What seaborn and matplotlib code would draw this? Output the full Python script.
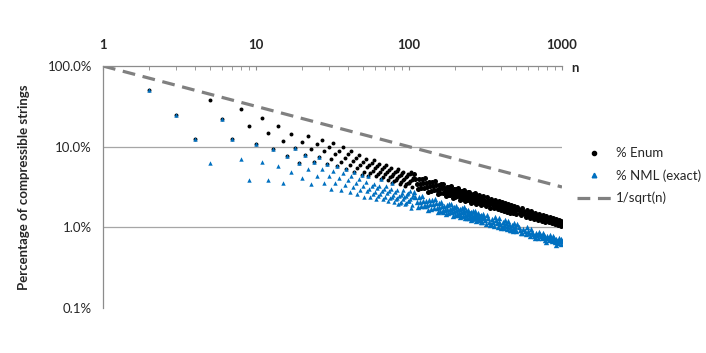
import matplotlib
matplotlib.use("Agg")
import matplotlib.pyplot as plt
from matplotlib.lines import Line2D
from matplotlib.ticker import FixedLocator, FixedFormatter, NullFormatter
import seaborn as sns
import pandas as pd

# ---------------- data ----------------
# string length n (x categories)
n_small = list(range(2, 107))
n_mid = list(range(108, 301, 2))
n_big = list(range(305, 501, 5)) + list(range(510, 1001, 10))

# % Enum (percent)
enum_small = [50, 25, 12.5, 37.5, 21.9, 12.5, 28.9, 18.0, 10.9,
              22.7, 14.6, 9.23, 18.0, 11.85, 7.68, 14.35, 9.63, 6.36, 11.53,
              7.84, 13.38, 9.31, 6.39, 10.78, 7.55, 12.21, 8.72, 6.14, 9.87,
              7.08, 11.02, 8.01, 5.76, 8.95, 6.52, 9.89, 7.30, 5.33, 8.07,
              5.96, 8.84, 6.60, 4.88, 7.25, 5.41, 7.90, 5.95, 4.44, 6.49,
              4.89, 7.04, 5.54, 4.38, 5.93, 4.71, 6.33, 5.03, 6.75, 5.38,
              4.29, 5.75, 4.60, 6.13, 4.92, 3.95, 5.26, 4.23, 5.60, 4.52,
              5.97, 4.83, 3.90, 5.15, 4.17, 5.44, 4.38, 3.53, 4.59, 3.71,
              4.81, 3.89, 5.04, 4.07, 5.27, 4.27, 3.47, 4.47, 3.65, 4.69,
              3.82, 4.90, 4.00, 3.27, 4.19, 3.42, 4.38, 3.59, 4.58, 3.52,
              4.60, 3.70, 4.82, 3.89, 3.12, 4.08]
enum_mid = [4.52, 3.93, 3.43, 3.00, 3.98, 3.48, 3.05, 4.03, 3.53, 3.10,
            4.09, 3.59, 3.15, 2.77, 3.64, 3.21, 2.83, 3.69, 3.26, 2.88,
            3.75, 3.32, 2.94, 2.60, 3.37, 2.99, 2.65, 3.42, 3.03, 2.70,
            3.48, 3.09, 2.75, 2.45, 3.15, 2.80, 2.50, 3.20, 2.85, 2.55,
            3.25, 2.90, 2.59, 2.32, 2.96, 2.65, 2.37, 3.01, 2.69, 2.42,
            3.06, 2.75, 2.46, 2.21, 2.80, 2.51, 2.26, 2.85, 2.56, 2.30,
            2.90, 2.61, 2.35, 2.12, 2.66, 2.40, 2.16, 2.71, 2.44, 2.21,
            2.76, 2.49, 2.25, 2.03, 2.54, 2.30, 2.08, 2.59, 2.34, 2.12,
            2.64, 2.39, 2.16, 1.96, 2.43, 2.21, 2.00, 2.48, 2.25, 2.04,
            2.53, 2.29, 2.08, 1.89, 2.33, 2.13, 1.93]
enum_big = [2.43, 2.21, 2.00, 1.82, 2.35, 2.13, 1.94, 1.76, 2.27, 2.06,
            1.88, 1.72, 2.19, 2.00, 1.83, 1.67, 2.12, 1.94, 1.78, 1.63,
            2.06, 1.89, 1.74, 1.59, 2.00, 1.84, 1.69, 1.56, 1.95, 1.79,
            1.65, 1.52, 1.90, 1.75, 1.61, 1.49, 1.85, 1.71, 1.58, 1.46,
            1.79, 1.65, 1.52, 1.41, 1.72, 1.58, 1.47, 1.36, 1.65, 1.52,
            1.42, 1.32, 1.58, 1.47, 1.37, 1.28, 1.52, 1.42, 1.33, 1.24,
            1.47, 1.37, 1.29, 1.21, 1.42, 1.33, 1.25, 1.17, 1.38, 1.29,
            1.22, 1.15, 1.34, 1.26, 1.19, 1.12, 1.30, 1.23, 1.16, 1.09,
            1.26, 1.19, 1.13, 1.07, 1.23, 1.17, 1.11, 1.05, 1.20, 1.14]

# % NML (exact) (percent)
nml_small = [50, 25, 12.5, 6.25, 21.9, 12.5, 7.03, 3.91, 10.9,
             6.54, 3.86, 9.23, 5.74, 3.52, 7.68, 4.90, 9.63, 6.36, 4.14,
             7.84, 5.25, 3.47, 6.39, 4.33, 7.55, 5.22, 3.57, 6.14, 4.28,
             2.95, 5.01, 3.51, 5.76, 4.10, 2.88, 4.70, 3.36, 5.33, 3.85,
             2.75, 4.36, 3.15, 4.88, 3.57, 2.59, 4.00, 2.93, 4.44, 3.29,
             2.41, 3.65, 2.83, 4.38, 3.02, 2.40, 3.23, 2.57, 3.44, 2.74,
             2.27, 3.05, 2.44, 3.25, 2.61, 3.95, 2.79, 2.24, 2.97, 2.40,
             3.28, 2.66, 2.15, 2.83, 2.29, 2.99, 2.41, 3.53, 2.52, 2.04,
             2.74, 2.22, 2.87, 2.32, 1.95, 2.43, 1.98, 2.55, 2.08, 2.67,
             2.25, 2.89, 2.36, 1.93, 2.47, 2.02, 2.58, 2.12, 2.70, 2.10,
             2.81, 2.23, 1.76, 2.36, 1.87, 2.50]
nml_mid = [2.71, 2.36, 2.06, 1.80, 2.39, 2.09, 1.83, 2.42, 2.12, 1.86,
           1.84, 2.15, 1.89, 1.66, 2.18, 1.93, 1.70, 2.21, 1.96, 1.73,
           2.25, 1.99, 1.76, 1.56, 2.02, 1.79, 1.59, 2.05, 1.82, 1.62,
           1.57, 1.85, 1.65, 1.47, 1.89, 1.68, 1.50, 1.92, 1.71, 1.53,
           1.95, 1.74, 1.55, 1.39, 1.78, 1.59, 1.42, 1.84, 1.64, 1.48,
           1.44, 1.68, 1.50, 1.35, 1.71, 1.53, 1.38, 1.74, 1.56, 1.40,
           1.77, 1.59, 1.43, 1.29, 1.62, 1.46, 1.32, 1.65, 1.49, 1.35,
           1.32, 1.52, 1.37, 1.24, 1.55, 1.40, 1.27, 1.58, 1.43, 1.29,
           1.61, 1.46, 1.32, 1.20, 1.48, 1.35, 1.22, 1.51, 1.37, 1.24,
           1.24, 1.40, 1.27, 1.15, 1.42, 1.30, 1.18]
nml_big = [1.48, 1.35, 1.22, 1.11, 1.43, 1.30, 1.18, 1.07, 1.11, 1.26,
           1.15, 1.05, 1.34, 1.22, 1.12, 1.02, 1.29, 1.18, 1.09, 0.99,
           1.01, 1.15, 1.06, 0.97, 1.22, 1.12, 1.03, 0.95, 1.19, 1.09,
           1.01, 0.93, 0.93, 1.07, 0.98, 0.91, 1.13, 1.04, 0.96, 0.89,
           1.09, 1.01, 0.93, 0.86, 0.84, 0.96, 0.90, 0.83, 1.01, 0.91,
           0.85, 0.79, 0.95, 0.88, 0.82, 0.77, 0.73, 0.85, 0.80, 0.74,
           0.88, 0.82, 0.77, 0.73, 0.85, 0.80, 0.75, 0.70, 0.66, 0.77,
           0.73, 0.69, 0.80, 0.76, 0.71, 0.67, 0.78, 0.74, 0.70, 0.65,
           0.60, 0.71, 0.68, 0.64, 0.74, 0.70, 0.67, 0.63, 0.72, 0.68]

# reference line 1/sqrt(n): end points (percent)
ref_n = [1, 1000]
ref_pct = [100.0, 3.162]

x_ticks = [1, 10, 100, 1000]
x_tick_labels = ["1", "10", "100", "1000"]
y_ticks = [0.1, 1, 10, 100]
y_tick_labels = ["0.1%", "1.0%", "10.0%", "100.0%"]
grid_levels = [1, 10]

series_names = ["% Enum", "% NML (exact)", "1/sqrt(n)"]

# ---------------- figure ----------------
sns.set_style("white")
plt.rcParams["font.family"] = ["Lato", "DejaVu Sans"]

df_sparse = pd.DataFrame({"n": n_small, "enum": enum_small, "nml": nml_small})
df_dense = pd.DataFrame({"n": n_mid + n_big,
                         "enum": enum_mid + enum_big,
                         "nml": nml_mid + nml_big})
ref = pd.DataFrame({"n": ref_n, "pct": ref_pct})

W, H = 706, 353
fig = plt.figure(figsize=(W / 100, H / 100), dpi=100)
L, R, T, B = 103, 562, 66, 308
ax = fig.add_axes([L / W, 1 - B / H, (R - L) / W, (B - T) / H])
ax.set_xscale("log")
ax.set_yscale("log")

BLUE = "#0070C0"
GRAY = "#808080"
AX_GRAY = "#8c8c8c"

# grid lines
for yv in grid_levels:
    ax.axhline(yv, color="#a6a6a6", lw=0.9, zorder=0)

sns.lineplot(data=ref, x="n", y="pct", ax=ax, color=GRAY, lw=2.3,
             dashes=False, legend=False, zorder=2)
ax.lines[-1].set_dashes((4, 2.4))
ax.lines[-1].set_dash_capstyle("butt")

# sparse region: one mark per n
sns.scatterplot(data=df_sparse, x="n", y="enum", ax=ax, color="black",
                marker="o", s=8, linewidth=0, legend=False, zorder=3)
# dense region: each sampled mark stands for several neighbouring n
sns.scatterplot(data=df_dense, x="n", y="enum", ax=ax, color="black",
                marker="o", s=13, linewidth=0, legend=False, zorder=3)
sns.scatterplot(data=df_sparse, x="n", y="nml", ax=ax, color=BLUE,
                marker="^", s=10, linewidth=0, legend=False, zorder=4)
sns.scatterplot(data=df_dense, x="n", y="nml", ax=ax, color=BLUE,
                marker="^", s=15, linewidth=0, legend=False, zorder=4)

ax.set_xlim(1, 1000)
ax.set_ylim(0.1, 100)

# axes styling
for s in ["right", "bottom"]:
    ax.spines[s].set_visible(False)
for s in ["top", "left"]:
    ax.spines[s].set_color(AX_GRAY)
    ax.spines[s].set_linewidth(0.9)

ax.xaxis.tick_top()
ax.xaxis.set_major_locator(FixedLocator(x_ticks))
ax.xaxis.set_major_formatter(FixedFormatter(x_tick_labels))
ax.xaxis.set_minor_locator(FixedLocator(
    [m * d for d in (1, 10, 100) for m in range(2, 10)]))
ax.xaxis.set_minor_formatter(NullFormatter())
ax.tick_params(axis="x", which="major", direction="in", length=3,
               color=AX_GRAY, pad=11, labelsize=9.5)
ax.tick_params(axis="x", which="minor", direction="in", length=3,
               color=AX_GRAY)
for lbl in ax.get_xticklabels():
    lbl.set_fontweight("bold")

ax.yaxis.set_major_locator(FixedLocator(y_ticks))
ax.yaxis.set_major_formatter(FixedFormatter(y_tick_labels))
ax.yaxis.set_minor_locator(FixedLocator(
    [m * d for d in (0.1, 1, 10) for m in range(2, 10)]))
ax.yaxis.set_minor_formatter(NullFormatter())
ax.tick_params(axis="y", which="major", direction="out", length=3,
               color=AX_GRAY, pad=5, labelsize=9.5)
ax.tick_params(axis="y", which="minor", direction="in", length=3,
               color=AX_GRAY)

ax.set_xlabel("")
ax.set_ylabel("Percentage of compressible strings", fontsize=9.5,
              fontweight="bold")
ax.yaxis.set_label_coords(-0.16, 0.5)
ax.text(1.028, 0.99, "n", transform=ax.transAxes, ha="center", va="center",
        fontsize=9.5, fontweight="bold")

handles = [
    Line2D([], [], ls="none", marker="o", color="black", markersize=3.0),
    Line2D([], [], ls="none", marker="^", color=BLUE, markersize=3.3),
    Line2D([], [], color=GRAY, lw=2.3, dashes=(4, 2.4), dash_capstyle="butt"),
]
leg = fig.legend(handles, series_names, loc="upper left",
                 bbox_to_anchor=(572 / W, 1 - 142 / H), frameon=False,
                 fontsize=9.5, handlelength=2.6, handletextpad=0.3,
                 labelspacing=0.75, borderaxespad=0)

fig.savefig("out.png", dpi=100)
